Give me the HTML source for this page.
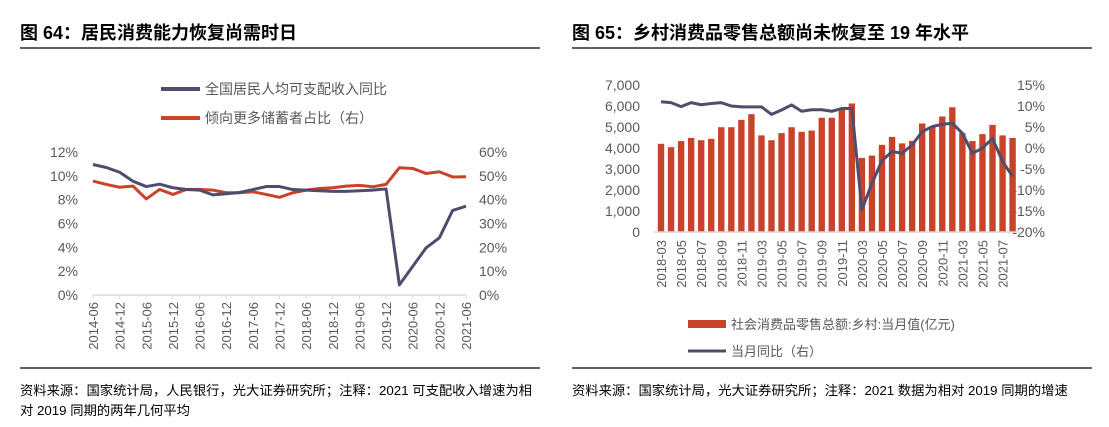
<!DOCTYPE html>
<html><head><meta charset="utf-8">
<style>
body{margin:0;background:#fff;width:1109px;height:427px;overflow:hidden;font-family:"Liberation Sans","Noto Sans CJK SC",sans-serif;}
svg{display:block}
</style></head>
<body>
<svg width="1109" height="427" xmlns="http://www.w3.org/2000/svg" font-family="Liberation Sans, Noto Sans CJK SC, sans-serif">
<g id="left">
<text x="20" y="39" font-size="18" font-weight="bold" fill="#000">图 64：居民消费能力恢复尚需时日</text>
<line x1="20" y1="48" x2="540" y2="48" stroke="#000" stroke-width="1.3"/>
<line x1="161" y1="89" x2="200" y2="89" stroke="#4f4d6e" stroke-width="4"/>
<text x="205" y="94" font-size="14" fill="#595959">全国居民人均可支配收入同比</text>
<line x1="161" y1="118" x2="200" y2="118" stroke="#c8432a" stroke-width="4"/>
<text x="205" y="123" font-size="14" fill="#595959">倾向更多储蓄者占比（右）</text>
<g id="lax"></g>
<line x1="20" y1="368" x2="540" y2="368" stroke="#000" stroke-width="1.3"/>
<text x="20" y="395" font-size="13.3" fill="#000">资料来源：国家统计局，人民银行，光大证券研究所；注释：2021  可支配收入增速为相</text>
<text x="20" y="415" font-size="13.3" fill="#000">对 2019 同期的两年几何平均</text>
</g>
<g id="right">
<text x="572" y="39" font-size="18" font-weight="bold" fill="#000">图 65：乡村消费品零售总额尚未恢复至 19 年水平</text>
<line x1="572" y1="48" x2="1092" y2="48" stroke="#000" stroke-width="1.3"/>
<g id="rax"></g>
<rect x="688" y="320" width="38" height="8" fill="#c8432a"/>
<text x="731" y="329" font-size="13" fill="#595959">社会消费品零售总额:乡村:当月值(亿元)</text>
<line x1="688" y1="351" x2="726" y2="351" stroke="#4f4d6e" stroke-width="3"/>
<text x="731" y="356" font-size="13" fill="#595959">当月同比（右）</text>
<line x1="572" y1="368" x2="1092" y2="368" stroke="#000" stroke-width="1.3"/>
<text x="572" y="395" font-size="13.3" fill="#000">资料来源：国家统计局，光大证券研究所；注释：2021 数据为相对 2019 同期的增速</text>
</g>
</svg>
<script>
// ---- Left chart data ----
const leftLabels=["2014-06","2014-12","2015-06","2015-12","2016-06","2016-12","2017-06","2017-12","2018-06","2018-12","2019-06","2019-12","2020-06","2020-12","2021-06"];
const incomeYoY=[10.95,10.7,10.3,9.55,9.1,9.3,9.0,8.85,8.8,8.4,8.5,8.6,8.85,9.1,9.1,8.85,8.8,8.75,8.7,8.7,8.75,8.8,8.9,0.85,2.4,3.95,4.8,7.1,7.45];
const savingsShare=[47.8,46.4,45.2,45.7,40.3,44.3,42.2,44.3,44.3,44,42.9,42.9,43.3,42.2,41,42.9,44,44.7,45,45.7,46,45.4,46.4,53.4,53.1,51,51.7,49.5,49.6];
const leftTicks=[0,2,4,6,8,10,12];
const leftTicksR=[0,10,20,30,40,50,60];
// ---- Right chart data ----
const rightLabels=["2018-03","2018-05","2018-07","2018-09","2018-11","2019-03","2019-05","2019-07","2019-09","2019-11","2020-03","2020-05","2020-07","2020-09","2020-11","2021-03","2021-05","2021-07"];
const retailValues=[4200,4040,4330,4480,4370,4440,4990,4990,5340,5610,4600,4370,4710,4990,4770,4830,5440,5440,5880,6120,3530,3640,4150,4530,4220,4340,5170,5020,5500,5940,4710,4330,4660,5100,4600,4480];
const retailYoY=[11.0,10.8,9.85,10.8,10.3,10.6,10.8,10.0,9.8,9.8,9.8,8.0,9.05,10.25,8.75,9.1,9.1,8.75,9.4,9.4,-14.7,-8.4,-3.0,-0.85,-1.25,0.75,3.9,5.1,5.65,5.9,3.5,-1.25,-0.05,2.3,-3.2,-6.8];
const rightTicks=[0,1000,2000,3000,4000,5000,6000,7000];
const rightTicksR=[-20,-15,-10,-5,0,5,10,15];

const NS="http://www.w3.org/2000/svg";
function mk(parent,tag,attrs,text){const e=document.createElementNS(NS,tag);for(const k in attrs)e.setAttribute(k,attrs[k]);if(text!==undefined)e.textContent=text;parent.appendChild(e);return e;}

// Left
(function(){
const g=document.getElementById('lax');
const x0=93,x1=466,yB=295,yT=152;
const n=incomeYoY.length;
const xs=i=>x0+(x1-x0)*i/(n-1);
const yL=v=>yB-(v-0)/(12-0)*(yB-yT);
const yR=v=>yB-(v-0)/(60-0)*(yB-yT);
leftTicks.forEach(t=>{const e=mk(g,'text',{x:78,y:yL(t)+5,'font-size':14,fill:'#595959','text-anchor':'end'},t+'%');

});
leftTicksR.forEach(t=>{const e=mk(g,'text',{x:479,y:yR(t)+5,'font-size':14,fill:'#595959'},t+'%');

});
const ax=mk(g,'line',{x1:x0,y1:yB,x2:x1,y2:yB,stroke:'#d9d9d9','stroke-width':1.5});


leftLabels.forEach((l,k)=>{const tx=xs(k*2);
mk(g,'line',{x1:tx,y1:yB,x2:tx,y2:yB+4,stroke:'#d9d9d9'});
const cx=tx+5;
const e=mk(g,'text',{x:0,y:0,'font-size':13,fill:'#595959','text-anchor':'end',transform:`translate(${cx},302) rotate(-90)`},l);

});
const p1=mk(g,'polyline',{points:savingsShare.map((v,i)=>xs(i)+','+yR(v)).join(' '),fill:'none',stroke:'#c8432a','stroke-width':3,'stroke-linejoin':'round'});


const p2=mk(g,'polyline',{points:incomeYoY.map((v,i)=>xs(i)+','+yL(v)).join(' '),fill:'none',stroke:'#4f4d6e','stroke-width':3,'stroke-linejoin':'round'});


})();

// Right
(function(){
const g=document.getElementById('rax');
const x0=661,x1=1012.6,yB=232,yT=85;
const n=retailValues.length;
const xs=i=>x0+(x1-x0)*i/(n-1);
const yL=v=>yB-v/7000*(yB-yT);
const yR=v=>yB-(v+20)/35*(yB-yT);
rightTicks.forEach(t=>{const e=mk(g,'text',{x:640,y:yL(t)+5,'font-size':14,fill:'#595959','text-anchor':'end'},t.toLocaleString('en-US'));

});
rightTicksR.forEach(t=>{const e=mk(g,'text',{x:1045,y:yR(t)+5,'font-size':14,fill:'#595959','text-anchor':'end'},t+'%');

});
retailValues.forEach((v,i)=>{const r=mk(g,'rect',{x:xs(i)-3.2,y:yL(v),width:6.4,height:yB-yL(v),fill:'#c8432a'});

});
const ax=mk(g,'line',{x1:x0-7,y1:yB,x2:x1+7,y2:yB,stroke:'#d9d9d9','stroke-width':1.5});


rightLabels.forEach((l,k)=>{const cx=xs(k*2)+5;
const e=mk(g,'text',{x:0,y:0,'font-size':13,fill:'#595959','text-anchor':'end',transform:`translate(${cx},240) rotate(-90)`},l);

});
const p=mk(g,'polyline',{points:retailYoY.map((v,i)=>xs(i)+','+yR(v)).join(' '),fill:'none',stroke:'#4f4d6e','stroke-width':3,'stroke-linejoin':'round'});


})();
</script>
</body></html>
